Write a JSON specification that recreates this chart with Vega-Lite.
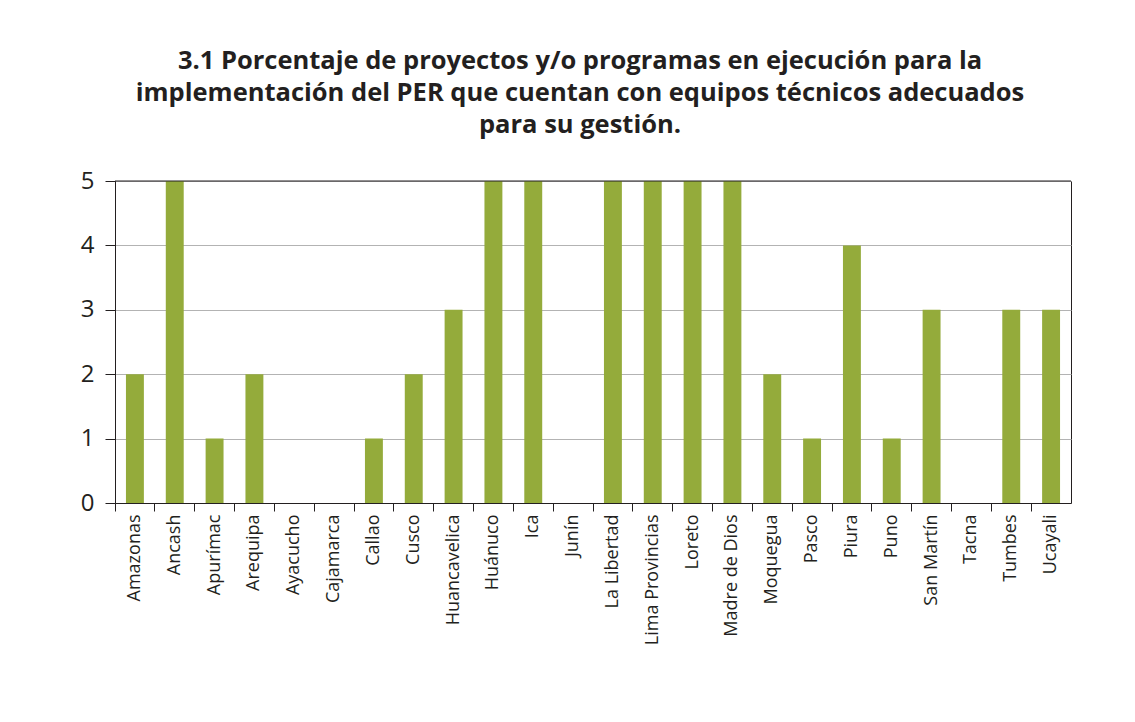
{
  "$schema": "https://vega.github.io/schema/vega-lite/v6.json",
  "width": 956,
  "height": 322,
  "autosize": {"type": "none"},
  "padding": {"left": 115, "top": 181, "right": 64, "bottom": 219},
  "background": "white",
  "title": {
    "text": ["3.1 Porcentaje de proyectos y/o programas en ejecución para la", "implementación del PER que cuentan con equipos técnicos adecuados", "para su gestión."],
    "font": "Open Sans",
    "fontSize": 25.5,
    "fontWeight": "bold",
    "lineHeight": 32,
    "color": "#231f20",
    "anchor": "middle",
    "dx": -13,
    "offset": 31
  },
  "data": {
    "values": [
      {"region": "Amazonas", "valor": 2},
      {"region": "Ancash", "valor": 5},
      {"region": "Apurímac", "valor": 1},
      {"region": "Arequipa", "valor": 2},
      {"region": "Ayacucho", "valor": 0},
      {"region": "Cajamarca", "valor": 0},
      {"region": "Callao", "valor": 1},
      {"region": "Cusco", "valor": 2},
      {"region": "Huancavelica", "valor": 3},
      {"region": "Huánuco", "valor": 5},
      {"region": "Ica", "valor": 5},
      {"region": "Junín", "valor": 0},
      {"region": "La Libertad", "valor": 5},
      {"region": "Lima Provincias", "valor": 5},
      {"region": "Loreto", "valor": 5},
      {"region": "Madre de Dios", "valor": 5},
      {"region": "Moquegua", "valor": 2},
      {"region": "Pasco", "valor": 1},
      {"region": "Piura", "valor": 4},
      {"region": "Puno", "valor": 1},
      {"region": "San Martín", "valor": 3},
      {"region": "Tacna", "valor": 0},
      {"region": "Tumbes", "valor": 3},
      {"region": "Ucayali", "valor": 3}
    ]
  },
  "layer": [
    {
      "mark": {"type": "bar", "color": "#94ab3b", "width": {"band": 0.45}},
      "encoding": {
        "x": {
          "field": "region",
          "type": "nominal",
          "sort": null,
          "scale": {"paddingInner": 0, "paddingOuter": 0},
          "axis": {
            "title": null,
            "labelAngle": -90,
            "labelFont": "Open Sans",
            "labelFontSize": 18,
            "labelColor": "#231f20",
            "labelPadding": 3,
            "tickSize": 8,
            "tickColor": "#231f20",
            "domainColor": "#231f20",
            "bandPosition": 0,
            "grid": false
          }
        },
        "y": {
          "field": "valor",
          "type": "quantitative",
          "scale": {"domain": [0, 5]},
          "axis": {
            "title": null,
            "values": [0, 1, 2, 3, 4, 5],
            "format": "d",
            "labelFont": "Open Sans",
            "labelFontSize": 24,
            "labelColor": "#231f20",
            "labelPadding": 11,
            "tickSize": 10,
            "tickColor": "#231f20",
            "domainColor": "#231f20",
            "grid": true,
            "gridColor": "#b3b3b3",
            "gridWidth": 1
          }
        }
      }
    },
    {
      "data": {"values": [{"tope": 5}]},
      "mark": {"type": "rule", "color": "#231f20", "strokeWidth": 1},
      "encoding": {
        "y": {"field": "tope", "type": "quantitative"}
      }
    }
  ],
  "config": {
    "view": {"stroke": "#231f20", "strokeWidth": 1},
    "axis": {"domainWidth": 1, "tickWidth": 1}
  }
}
